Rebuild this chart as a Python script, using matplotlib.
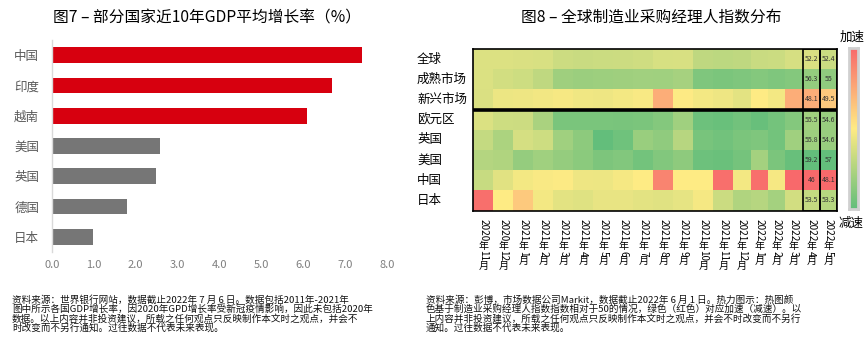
import re
import numpy as np
import matplotlib
matplotlib.use("Agg")
import matplotlib.pyplot as plt
import matplotlib.transforms as mtransforms
from matplotlib.colors import LinearSegmentedColormap
from matplotlib.patches import Rectangle

plt.rcParams['font.family'] = ['Noto Sans CJK SC', 'DejaVu Sans']

# ---- data: fig 7, average GDP growth 2011-2021 (%)
countries = ['中国', '印度', '越南', '美国', '英国', '德国', '日本']
gdp_growth = [7.41, 6.69, 6.09, 2.58, 2.49, 1.80, 0.99]

# ---- data: fig 8, manufacturing PMI heatmap
pmi_rows = ['全球', '成熟市场', '新兴市场', '欧元区', '英国', '美国', '中国', '日本']
months = ['2020年11月', '2020年12月', '2021年1月', '2021年2月', '2021年3月',
          '2021年4月', '2021年5月', '2021年6月', '2021年7月', '2021年8月',
          '2021年9月', '2021年10月', '2021年11月', '2021年12月', '2022年1月',
          '2022年2月', '2022年3月', '2022年4月', '2022年5月']
pmi_global = [53.5, 53.5, 53.7, 53.8, 55.1, 55.4, 55.2, 55.0, 54.8, 53.9,
              53.8, 56.4, 56.6, 56.4, 55.4, 55.2, 54.1, 52.2, 52.4]
pmi_developed = [53.6, 54.4, 54.9, 56.4, 59.6, 59.9, 59.8, 59.6, 59.3, 59.5,
                 58.8, 62.7, 63.1, 62.7, 62.2, 62.7, 62.2, 56.3, 55.0]
pmi_emerging = [53.7, 51.9, 51.6, 51.3, 50.9, 51.5, 51.6, 51.2, 50.7, 49.1,
                50.2, 51.2, 51.7, 52.7, 50.0, 51.2, 49.1, 48.1, 49.5]
pmi_eurozone = [53.6, 54.9, 55.1, 58.5, 63.2, 63.2, 63.2, 63.4, 63.1, 62.2,
                59.5, 64.6, 64.9, 64.1, 65.1, 63.8, 62.2, 55.5, 54.6]
pmi_uk = [55.9, 58.2, 54.2, 54.9, 59.5, 61.4, 65.6, 64.3, 60.2, 61.0,
          57.1, 63.5, 64.1, 63.1, 62.7, 64.0, 59.5, 55.8, 54.6]
pmi_us = [57.5, 57.9, 60.5, 59.4, 60.6, 61.5, 63.0, 62.5, 64.0, 62.5,
          61.3, 64.6, 64.8, 63.7, 59.1, 63.1, 65.1, 59.2, 57.0]
pmi_china = [55.6, 53.0, 51.2, 50.6, 50.3, 51.6, 51.8, 51.0, 50.1, 48.5,
             50.0, 50.1, 48.2, 51.1, 48.2, 50.9, 48.1, 46.0, 48.1]
pmi_japan = [48.2, 50.0, 49.5, 51.2, 52.7, 53.2, 52.2, 52.3, 52.8, 53.1,
             52.5, 51.0, 55.2, 57.9, 57.3, 59.1, 54.5, 53.5, 53.3]

notes_left = [
    '资料来源：世界银行网站，数据截止2022年 7 月 6 日。数据包括2011年-2021年',
    '图中所示各国GDP增长率，因2020年GPD增长率受新冠疫情影响，因此未包括2020年',
    '数据。以上内容并非投资建议，所载之任何观点只反映制作本文时之观点，并会不',
    '时改变而不另行通知。过往数据不代表未来表现。',
]
notes_right = [
    '资料来源：彭博，市场数据公司Markit，数据截止2022年 6 月 1 日。热力图示：热图颜',
    '色基于制造业采购经理人指数指数相对于50的情况，绿色（红色）对应加速（减速）。以',
    '上内容并非投资建议，所载之任何观点只反映制作本文时之观点，并会不时改变而不另行',
    '通知。过往数据不代表未来表现。',
]

# ---- layout helpers (pixel -> figure fraction)
W, H = 868, 349
def fx(px):
    return px / W
def fy(py):
    return 1 - py / H

fig = plt.figure(figsize=(W / 100, H / 100), dpi=100)
fig.patch.set_facecolor('white')

# ================= left: bar chart =================
bar_colors = ['#D7000F'] * 3 + ['#767676'] * 4
ax1 = fig.add_axes([fx(51.7), fy(252), (386.7 - 51.7) / W, (252 - 40) / H])
ypos = np.arange(len(countries))
ax1.barh(ypos, gdp_growth, height=0.52, color=bar_colors)
ax1.set_xlim(0, 8)
ax1.set_ylim(len(countries) - 0.5, -0.5)
ax1.set_yticks(ypos)
ax1.set_yticklabels(countries, fontsize=9, color='#595959')
ax1.set_xticks(np.arange(0, 9))
ax1.set_xticklabels([f'{v:.1f}' for v in np.arange(0, 9)], fontsize=8, color='#7F7F7F')
ax1.tick_params(axis='y', length=0, pad=9)
ax1.tick_params(axis='x', length=0, pad=6)
for s in ['top', 'right', 'bottom']:
    ax1.spines[s].set_visible(False)
ax1.spines['left'].set_color('#D9D9D9')
ax1.spines['left'].set_linewidth(1.0)

fig.text(fx(207), fy(18), '图7 – 部分国家近10年GDP平均增长率（%）',
         ha='center', va='center', fontsize=11.3)

# ================= right: heatmap =================
pmi = np.array([pmi_global, pmi_developed, pmi_emerging, pmi_eurozone,
                pmi_uk, pmi_us, pmi_china, pmi_japan])

def excel_scale(block, mid=50.0):
    # 3-colour scale: lowest -> 0, mid -> 0.5, highest -> 1
    lo, hi = block.min(), block.max()
    return np.where(block < mid,
                    0.5 * (block - lo) / (mid - lo),
                    0.5 + 0.5 * (block - mid) / (hi - mid))

scaled = np.empty_like(pmi)
scaled[:, :17] = excel_scale(pmi[:, :17])
scaled[:, 17:18] = excel_scale(pmi[:, 17:18])
scaled[:, 18:19] = excel_scale(pmi[:, 18:19])

cmap = LinearSegmentedColormap.from_list('xl_rdylgn', ['#F8696B', '#FFEB84', '#63BE7B'])

col_widths = [20.0] * 13 + [17.33] * 6
x_edges = np.concatenate([[0], np.cumsum(col_widths)])
y_edges = np.arange(len(pmi_rows) + 1)
x_mid = 0.5 * (x_edges[:-1] + x_edges[1:])

hm_left, hm_top, hm_bottom = 473.3, 49.0, 210.5
ax2 = fig.add_axes([fx(hm_left), fy(hm_bottom), x_edges[-1] / W, (hm_bottom - hm_top) / H])
ax2.pcolormesh(x_edges, y_edges, scaled, cmap=cmap, vmin=0, vmax=1, shading='flat')
ax2.set_xlim(x_edges[0], x_edges[-1])
ax2.set_ylim(len(pmi_rows), 0)
ax2.set_xticks([])
ax2.set_yticks([])
for s in ax2.spines.values():
    s.set_color('black')
    s.set_linewidth(1.2)

# thick separator between aggregates and countries
ax2.axhline(3, color='black', linewidth=2.6)
# boxes around the two latest months
for c in (17, 18):
    ax2.add_patch(Rectangle((x_edges[c], 0), col_widths[c], len(pmi_rows),
                            fill=False, edgecolor='black', linewidth=1.2))
    for r in range(len(pmi_rows)):
        ax2.text(x_mid[c], r + 0.5, f'{pmi[r, c]:g}', ha='center', va='center',
                 fontsize=5, color='#333333')

# row labels
trans_rows = mtransforms.blended_transform_factory(fig.transFigure, ax2.transData)
for r, name in enumerate(pmi_rows):
    ax2.text(fx(417), r + 0.5, name, transform=trans_rows, ha='left', va='center',
             fontsize=9, color='black')

# vertical month labels: digits turned, CJK upright
lab_fs = 7.2
for c, lab in enumerate(months):
    pos = 6.8
    for seg in re.findall(r'\d+|\D', lab):
        if seg.isdigit():
            length = len(seg) * 0.52 * lab_fs
            rot = -90
        else:
            length = 1.0 * lab_fs
            rot = 0
        ax2.annotate(seg, xy=(x_mid[c], 0), xycoords=('data', 'axes fraction'),
                     xytext=(0, -(pos + length / 2)), textcoords='offset points',
                     ha='center', va='center', rotation=rot, fontsize=lab_fs)
        pos += length

fig.text(fx(651), fy(17), '图8 – 全球制造业采购经理人指数分布',
         ha='center', va='center', fontsize=11.3)

# colour legend bar
cax = fig.add_axes([fx(849), fy(209), 9 / W, (209 - 48) / H])
cax.imshow(np.linspace(0, 1, 256)[:, None], cmap=cmap, aspect='auto')
cax.set_xticks([])
cax.set_yticks([])
for s in cax.spines.values():
    s.set_color('#D0D0D0')
    s.set_linewidth(2)
fig.text(fx(852), fy(37), '加速', ha='center', va='center', fontsize=9)
fig.text(fx(851), fy(223), '减速', ha='center', va='center', fontsize=9)

# ================= footnotes =================
line_y = [300, 309.4, 318.8, 328.2]
for txt, yy in zip(notes_left, line_y):
    fig.text(fx(12), fy(yy), txt, ha='left', va='center', fontsize=6.9, color='#111111')
for txt, yy in zip(notes_right, line_y):
    fig.text(fx(426), fy(yy), txt, ha='left', va='center', fontsize=6.9, color='#111111')

fig.savefig('out.png', dpi=100)
